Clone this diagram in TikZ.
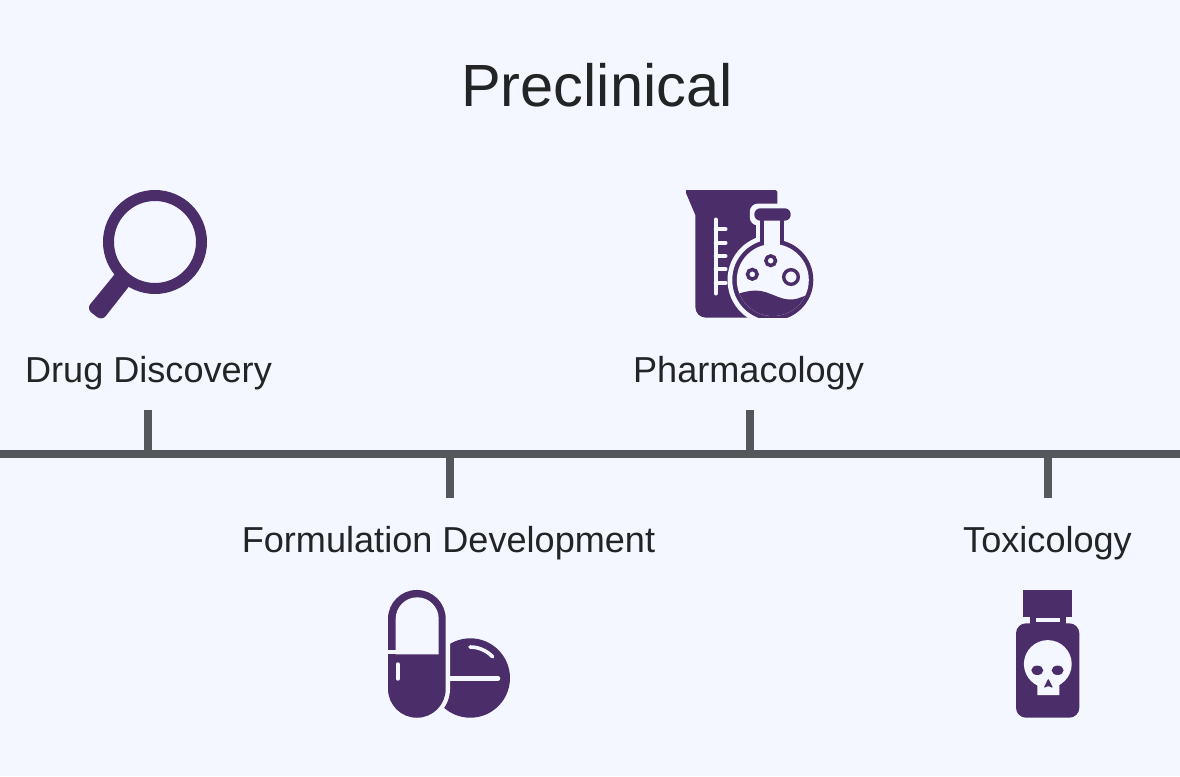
\documentclass[tikz,border=0pt]{standalone}
\usepackage{fontspec}
\setmainfont{Liberation Sans}
\definecolor{bgc}{HTML}{F4F7FF}
\definecolor{ink}{HTML}{4B2E69}
\definecolor{axisc}{HTML}{54585B}
\definecolor{txtc}{HTML}{222426}
\tikzset{
  title/.style={anchor=base,text=txtc,inner sep=0pt,font=\fontsize{59.6}{66}\selectfont},
  label/.style={anchor=base,text=txtc,inner sep=0pt,font=\fontsize{36.1}{42}\selectfont},
  axisline/.style={draw=axisc,line width=8pt},
  icon/.style={fill=ink,draw=none},
  hole/.style={fill=bgc,draw=none},
  ring/.style={draw=ink,fill=none},
  lightline/.style={draw=bgc,line cap=round}
}
\begin{document}
\begin{tikzpicture}[x=1pt,y=-1pt]
\useasboundingbox (0,0) rectangle (1180,776);
\fill[bgc] (0,0) rectangle (1180,776);
% texts
\node[title] (t) at (597,106) {Preclinical};
\node[label] (drug) at (148.5,382) {Drug Discovery};
\node[label] (pharm) at (748.5,382) {Pharmacology};
\node[label] (form) at (448.5,552) {Formulation Development};
\node[label] (tox) at (1047.5,552) {Toxicology};
% axis
\coordinate (L) at (0,454);
\coordinate (R) at (1180,454);
\coordinate (a1) at (148,454); \coordinate (e1) at (148,410);
\coordinate (a2) at (450,454); \coordinate (e2) at (450,498);
\coordinate (a3) at (750,454); \coordinate (e3) at (750,410);
\coordinate (a4) at (1048,454); \coordinate (e4) at (1048,498);
\draw[axisline] (L) -- (R);
\draw[axisline] (a1) -- (e1);
\draw[axisline] (a2) -- (e2);
\draw[axisline] (a3) -- (e3);
\draw[axisline] (a4) -- (e4);
% magnifier
\draw[ring,line width=11pt] (155,242) circle[radius=46.5];
\fill[icon,rounded corners=6pt] (86.5,308.8) -- (102,320.8) -- (128.3,287.3) [sharp corners] -- (134,280) -- (119,268.5) -- (113.3,276) [rounded corners=6pt] -- cycle;
% beaker
\fill[icon] (686,190) -- (775.5,190) arc[start angle=-90,end angle=0,radius=1.8] -- (777.3,317.7) -- (706,317.7) arc[start angle=90,end angle=180,radius=10.7] -- (695.3,215) -- (686,193) -- cycle;
% beaker scale
\draw[lightline,line width=4pt] (715.7,219.5) -- (715.7,293.5);
\foreach \yy in {229.3,242.7,256,269.3,282.7}{
  \draw[lightline,line width=4pt] (715.7,\yy) -- (725.5,\yy);
}
% flask
\begin{scope}
\clip (720,200) rectangle (830,317.7);
\fill[bgc] (772.8,280) circle[radius=45.3];
\fill[bgc,rounded corners=8pt] (749.8,203.6) rectangle (795.2,225.4);
\fill[bgc] (755.6,220) rectangle (789,250);
\fill[ink] (772.8,280) circle[radius=40.5];
\fill[ink] (760,215) rectangle (784.4,250);
\fill[bgc] (772.8,280) circle[radius=36];
\fill[bgc] (764.4,215) rectangle (780,250);
\begin{scope}
\clip (772.8,280) circle[radius=36];
\fill[ink] (730,296.5) .. controls (745,291) and (755,289) .. (765,292)
  .. controls (775,295) and (782,300) .. (792,299.5)
  .. controls (800,299) and (805,295) .. (815,292) -- (815,325) -- (730,325) -- cycle;
\end{scope}
\end{scope}
\fill[icon,rounded corners=6pt] (754.3,208.3) rectangle (790.7,220.7);
\draw[ring,line width=3.5pt] (770.7,260.7) circle[radius=4.8];
\draw[ring,line width=3.5pt] (752.3,274.3) circle[radius=4.8];
\draw[ring,line width=3.4pt] (791,277) circle[radius=7.3];
% tablet
\fill[icon] (470.3,678) circle[radius=39.7];
\draw[lightline,line width=3.6pt] (470,647) arc[start angle=-90,end angle=-43,radius=31];
\draw[lightline,line width=4.6pt] (446,678.3) -- (498,678.3);
% capsule
\fill[bgc] (383.7,618.8) arc[start angle=180,end angle=360,radius=33.15] -- (450,688.9) arc[start angle=0,end angle=180,radius=33.15] -- cycle;
\fill[icon] (388,618.8) arc[start angle=180,end angle=360,radius=28.85] -- (445.7,688.9) arc[start angle=0,end angle=180,radius=28.85] -- cycle;
\fill[hole] (395.7,654.3) -- (395.7,618.8) arc[start angle=180,end angle=360,radius=21.5] -- (438.7,654.3) -- cycle;
\fill[hole] (386,650) rectangle (400,654.3);
\draw[lightline,line width=4pt] (397.8,664.3) -- (397.8,678.7);
% bottle
\fill[icon] (1023.3,590) rectangle (1072.3,617.3);
\fill[icon] (1030,617) rectangle (1065.7,625);
\fill[hole] (1036,618.3) rectangle (1060,622.3);
\fill[icon,rounded corners=10pt] (1016,623.3) rectangle (1079.3,717.7);
% skull
\fill[hole] (1047.8,664) circle[radius=23.9];
\fill[hole] (1030,678) -- (1037.3,685) -- (1037.3,695) -- (1059.3,695) -- (1059.3,685) -- (1066,678) -- cycle;
\fill[icon] (1037.3,670.3) ellipse[x radius=6,y radius=4.7];
\fill[icon] (1057.6,670.3) ellipse[x radius=6,y radius=4.7];
\fill[icon,rounded corners=1pt] (1048.3,678.5) -- (1053,688) -- (1048.3,686) -- (1043.7,688) -- cycle;
\end{tikzpicture}
\end{document}
